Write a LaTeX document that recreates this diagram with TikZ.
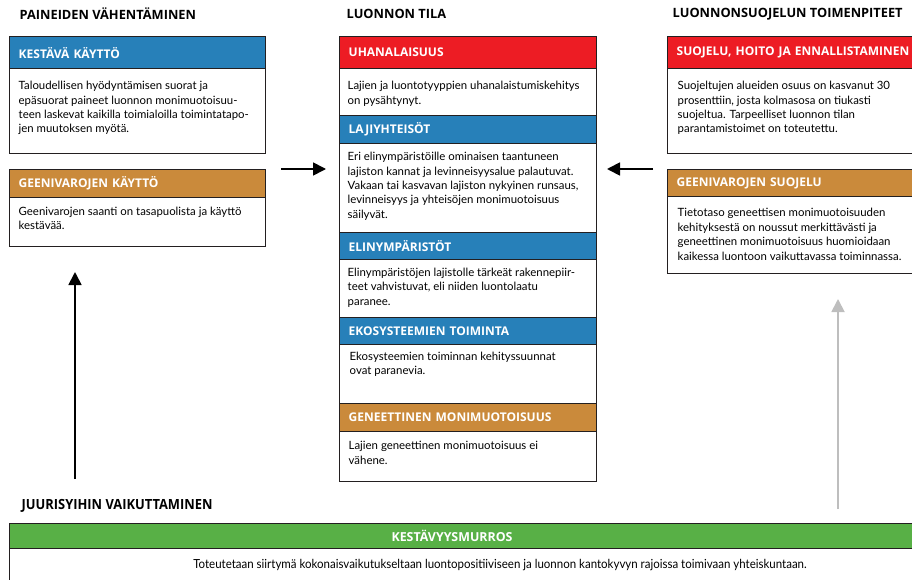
\documentclass[tikz,border=0pt]{standalone}
\usepackage{fontspec}
\setmainfont{Lato}
\newfontfamily\headfont{Open Sans}
\newfontfamily\narrowfont[FakeStretch=0.92]{Lato}
\newfontfamily\narrowhead[FakeStretch=0.92]{Open Sans}
\usetikzlibrary{arrows.meta}

\definecolor{kline}{RGB}{35,31,32}
\definecolor{kblue}{RGB}{39,128,185}
\definecolor{kred}{RGB}{237,28,36}
\definecolor{korange}{RGB}{202,138,59}
\definecolor{kgreen}{RGB}{88,176,70}
\definecolor{kgray}{RGB}{190,190,190}

\begin{document}
\begin{tikzpicture}[x=1pt,y=-1pt,line width=1.4pt]
  \tikzstyle{head}=[draw=kline,anchor=north west,inner xsep=9pt,inner ysep=0pt,text=white,align=left,font=\headfont\bfseries\fontsize{12}{14}\selectfont]
  \tikzstyle{body}=[draw=kline,fill=white,anchor=north west,inner sep=0pt]
  \tikzstyle{txt}=[anchor=north west,inner sep=0pt,align=left,font=\fontsize{11.4}{14.4}\selectfont]
  \tikzstyle{title}=[anchor=west,inner sep=0pt,font=\headfont\bfseries\fontsize{12.8}{14}\selectfont]
  \tikzstyle{arrow}=[line width=1.8pt,-{Triangle[length=13pt,width=13pt]}]
  \useasboundingbox (0,0) rectangle (912,580);

  % column titles
  \node[title] (H_1) at (19,14) {PAINEIDEN VÄHENTÄMINEN};
  \node[title] (H_2) at (346,14) {LUONNON TILA};
  \node[title] (H_3) at (672,14) {LUONNONSUOJELUN TOIMENPITEET};
  \node[title,font=\narrowhead\bfseries\fontsize{14}{16}\selectfont] (H_4) at (21,506) {JUURISYIHIN VAIKUTTAMINEN};

  % left column
  \node[head,fill=kblue,text width=238pt,minimum height=32pt] (P_1h) at (9,36) {KESTÄVÄ KÄYTTÖ};
  \node[body,minimum width=256pt,minimum height=85pt] (P_1) at (9,68) {};
  \node[txt] (P_1t) at ([xshift=9pt,yshift=-12.6pt]P_1.north west)
    {Taloudellisen hyödyntämisen suorat ja\\epäsuorat paineet luonnon monimuotoisuu-\\teen laskevat kaikilla toimialoilla toimintatapo-\\jen muutoksen myötä.};
  \node[head,fill=korange,text width=238pt,minimum height=28pt] (P_2h) at (9,169) {GEENIVAROJEN KÄYTTÖ};
  \node[body,minimum width=256pt,minimum height=49pt] (P_2) at (9,197) {};
  \node[txt] (P_2t) at ([xshift=9pt,yshift=-9.3pt]P_2.north west)
    {Geenivarojen saanti on tasapuolista ja käyttö\\kestävää.};

  % middle column
  \node[head,fill=kred,text width=239pt,minimum height=32pt] (T_1h) at (339,36) {UHANALAISUUS};
  \node[body,minimum width=257pt,minimum height=47pt] (T_1) at (339,68) {};
  \node[txt] (T_1t) at ([xshift=8pt,yshift=-12.6pt]T_1.north west)
    {Lajien ja luontotyyppien uhanalaistumiskehitys\\on pysähtynyt.};
  \node[head,fill=kblue,text width=239pt,minimum height=28pt] (T_2h) at (339,115) {LAJIYHTEISÖT};
  \node[body,minimum width=257pt,minimum height=89pt] (T_2) at (339,143) {};
  \node[txt] (T_2t) at ([xshift=8pt,yshift=-8.6pt]T_2.north west)
    {Eri elinympäristöille ominaisen taantuneen\\lajiston kannat ja levinneisyysalue palautuvat.\\Vakaan tai kasvavan lajiston nykyinen runsaus,\\levinneisyys ja yhteisöjen monimuotoisuus\\säilyvät.};
  \node[head,fill=kblue,text width=239pt,minimum height=27pt] (T_3h) at (339,232) {ELINYMPÄRISTÖT};
  \node[body,minimum width=257pt,minimum height=58pt] (T_3) at (339,259) {};
  \node[txt] (T_3t) at ([xshift=8pt,yshift=-8.3pt]T_3.north west)
    {Elinympäristöjen lajistolle tärkeät rakennepiir-\\teet vahvistuvat, eli niiden luontolaatu\\paranee.};
  \node[head,fill=kblue,text width=239pt,minimum height=27pt] (T_4h) at (339,317) {EKOSYSTEEMIEN TOIMINTA};
  \node[body,minimum width=257pt,minimum height=59pt] (T_4) at (339,344) {};
  \node[txt] (T_4t) at ([xshift=10pt,yshift=-7.3pt]T_4.north west)
    {Ekosysteemien toiminnan kehityssuunnat\\ovat paranevia.};
  \node[head,fill=korange,text width=239pt,minimum height=28pt] (T_5h) at (339,403) {GENEETTINEN MONIMUOTOISUUS};
  \node[body,minimum width=257pt,minimum height=50pt] (T_5) at (339,431) {};
  \node[txt] (T_5t) at ([xshift=9pt,yshift=-9.6pt]T_5.north west)
    {Lajien geneettinen monimuotoisuus ei\\vähene.};

  % right column
  \node[head,fill=kred,text width=252pt,minimum height=32pt] (S_1h) at (667,36) {SUOJELU, HOITO JA ENNALLISTAMINEN};
  \node[body,minimum width=270pt,minimum height=85pt] (S_1) at (667,68) {};
  \node[txt] (S_1t) at ([xshift=10pt,yshift=-12.6pt]S_1.north west)
    {Suojeltujen alueiden osuus on kasvanut 30\\prosenttiin, josta kolmasosa on tiukasti\\suojeltua. Tarpeelliset luonnon tilan\\parantamistoimet on toteutettu.};
  \node[head,fill=korange,text width=252pt,minimum height=27pt] (S_2h) at (667,169) {GEENIVAROJEN SUOJELU};
  \node[body,minimum width=270pt,minimum height=77pt] (S_2) at (667,196) {};
  \node[txt] (S_2t) at ([xshift=10pt,yshift=-11.9pt]S_2.north west)
    {Tietotaso geneettisen monimuotoisuuden\\kehityksestä on noussut merkittävästi ja\\geneettinen monimuotoisuus huomioidaan\\kaikessa luontoon vaikuttavassa toiminnassa.};

  % bottom bar
  \node[body,fill=kgreen,minimum width=930pt,minimum height=25pt] (M_h) at (9,523) {};
  \node[text=white,inner sep=0pt,font=\headfont\bfseries\fontsize{12.4}{14}\selectfont] (M_ht) at (452,535.5) {KESTÄVYYSMURROS};
  \node[body,minimum width=930pt,minimum height=50pt] (M) at (9,548) {};
  \node[inner sep=0pt,font=\narrowfont\fontsize{12.5}{14}\selectfont] (M_t) at (500,565)
    {Toteutetaan siirtymä kokonaisvaikutukseltaan luontopositiiviseen ja luonnon kantokyvyn rajoissa toimivaan yhteiskuntaan.};

  % arrows
  \coordinate (A_1) at (281,169);
  \coordinate (A_2) at (326,169);
  \coordinate (A_3) at (653,169);
  \coordinate (A_4) at (607,169);
  \coordinate (A_5) at (75,479);
  \coordinate (A_6) at (75,272);
  \coordinate (A_7) at (838,509);
  \coordinate (A_8) at (838,299);
  \draw[arrow] (A_1) -- (A_2);
  \draw[arrow] (A_3) -- (A_4);
  \draw[arrow] (A_5) -- (A_6);
  \draw[arrow,kgray] (A_7) -- (A_8);
\end{tikzpicture}
\end{document}
